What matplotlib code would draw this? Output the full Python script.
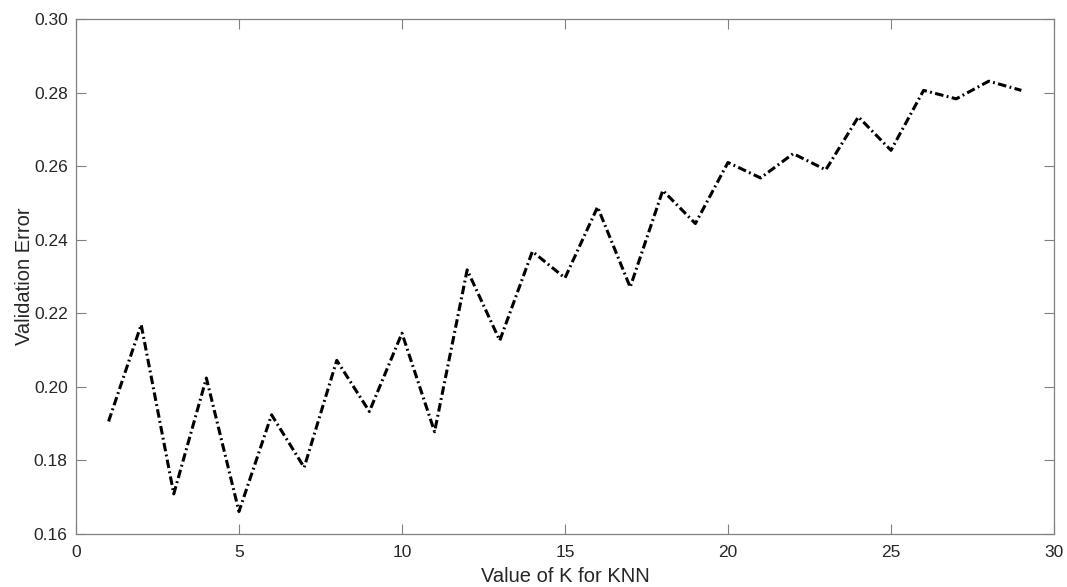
import matplotlib
matplotlib.use("Agg")
import matplotlib.pyplot as plt

k_values = list(range(1, 30))
val_error = [0.1906, 0.2169, 0.1709, 0.2024, 0.1661, 0.1924, 0.1781, 0.2072,
             0.1933, 0.2146, 0.1878, 0.2318, 0.2126, 0.2368, 0.2296, 0.2489,
             0.2271, 0.2534, 0.2444, 0.2610, 0.2568, 0.2634, 0.2590, 0.2734,
             0.2643, 0.2806, 0.2783, 0.2831, 0.2806]

plt.rcParams['font.family'] = ['Liberation Sans', 'DejaVu Sans']

fig = plt.figure(figsize=(10.67, 5.87), dpi=100)
ax = fig.add_axes([0.0712, 0.0903, 0.9166, 0.8773])

ax.plot(k_values, val_error, color='black', linestyle='-.', linewidth=2.2,
        dashes=(2.8, 1.1, 0.6, 1.1))

ax.set_xlim(0, 30)
ax.set_ylim(0.16, 0.30)
ax.set_xticks(range(0, 31, 5))
ax.set_yticks([0.16, 0.18, 0.20, 0.22, 0.24, 0.26, 0.28, 0.30])
ax.set_yticklabels(['%.2f' % v for v in ax.get_yticks()])

ax.tick_params(direction='in', length=7.5, width=0.8, color='#808080',
               labelcolor='#262626', labelsize=12.5, top=True, right=True)
ax.tick_params(axis='y', pad=6)
ax.tick_params(axis='x', pad=8)
for s in ax.spines.values():
    s.set_color('#808080')
    s.set_linewidth(0.9)

ax.set_xlabel('Value of K for KNN', fontsize=14.5, color='#262626', labelpad=5)
ax.set_ylabel('Validation Error', fontsize=14.5, color='#262626', labelpad=0)

fig.savefig('out.png', dpi=100)
